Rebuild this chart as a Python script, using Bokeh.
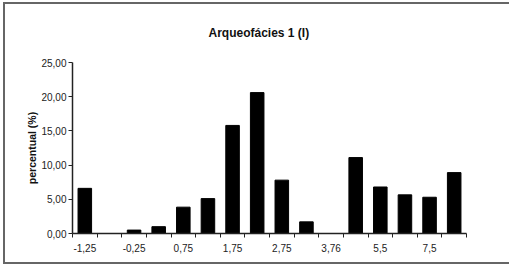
from bokeh.plotting import figure
from bokeh.models import FixedTicker, Range1d, ColumnDataSource
from bokeh.embed import file_html
from bokeh.resources import INLINE

# data
categories = ["-1,25", "-0,75", "-0,25", "0,25", "0,75", "1,25", "1,75", "2,25",
              "2,75", "3,25", "3,76", "4,5", "5,5", "6,5", "7,5", "8,5"]
percent = [6.6, 0.0, 0.5, 1.0, 3.85, 5.1, 15.8, 20.6,
           7.8, 1.7, 0.0, 11.1, 6.8, 5.65, 5.3, 8.9]
y_ticks = [0, 5, 10, 15, 20, 25]
y_tick_labels = ["0,00", "5,00", "10,00", "15,00", "20,00", "25,00"]
title_text = "Arqueofácies 1 (I)"
y_title = "percentual (%)"

n = len(categories)
xs = list(range(1, n + 1))

OX, OY = 5, 4          # canvas origin on the page (inside the drawn frame)
W, H = 506, 262
p = figure(width=W, height=H, output_backend="svg", toolbar_location=None,
           x_range=Range1d(0.5, n + 0.5), y_range=Range1d(0, 25),
           min_border_left=72 - OX, min_border_right=W - (466 - OX),
           min_border_top=62 - OY, min_border_bottom=H - (233 - OY))
p.styles = {"position": "absolute", "left": f"{OX-2}px", "top": f"{OY-2}px",
            "border-left": "2px solid #666666", "border-top": "2px solid #666666",
            "border-bottom": "2px solid #666666"}
p.outline_line_color = None
p.xgrid.visible = False
p.ygrid.visible = False
p.background_fill_color = "white"
p.border_fill_color = "white"

src = ColumnDataSource(dict(x=xs, top=percent, cat=categories))
p.vbar(x="x", top="top", width=0.55, source=src, fill_color="black", line_color="black")

font = "Liberation Sans"

p.title.text = title_text
p.title.align = "left"
p.title.offset = 136
p.title.standoff = 41
p.title.vertical_align = "top"
p.title.text_font = font
p.title.text_font_size = "12px"
p.title.text_font_style = "bold"
p.title.text_color = "#111111"

# x axis
xa = p.xaxis[0]
centers = xs[0::2]
boundaries = [x + 0.5 for x in [0] + xs]
xa.ticker = FixedTicker(ticks=centers, minor_ticks=boundaries)
xa.major_label_overrides = {c: categories[c - 1] for c in centers}
xa.major_tick_line_color = None
xa.minor_tick_out = 4
xa.minor_tick_in = 0
xa.minor_tick_line_color = "#222222"
xa.axis_line_color = "#222222"
xa.axis_line_width = 1.5
xa.major_label_text_font = font
xa.major_label_text_font_size = "10px"
xa.major_label_text_color = "#222222"
xa.major_label_standoff = 4

ya = p.yaxis[0]
ya.ticker = FixedTicker(ticks=y_ticks)
ya.major_label_overrides = dict(zip(y_ticks, y_tick_labels))
ya.minor_tick_line_color = None
ya.major_tick_out = 4
ya.major_tick_in = 0
ya.major_tick_line_color = "#222222"
ya.axis_line_color = "#222222"
ya.axis_line_width = 1.5
ya.major_label_text_font = font
ya.major_label_text_font_size = "10px"
ya.major_label_text_color = "#222222"
ya.major_label_standoff = 2
ya.axis_label = y_title
ya.axis_label_text_font = font
ya.axis_label_text_font_size = "10.5px"
ya.axis_label_text_font_style = "bold"
ya.axis_label_text_color = "#111111"
ya.axis_label_standoff = 0

open("out.html", "w").write(file_html(p, INLINE))
